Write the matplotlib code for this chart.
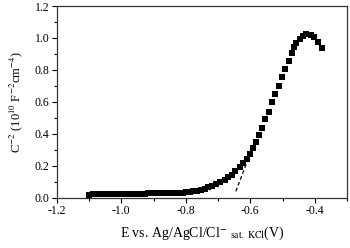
import matplotlib
matplotlib.use('Agg')
import matplotlib.pyplot as plt
from matplotlib.ticker import MultipleLocator, FormatStrFormatter

plt.rcParams['font.family'] = 'Liberation Serif'
plt.rcParams['mathtext.fontset'] = 'stix'
plt.rcParams['axes.unicode_minus'] = False

# Mott-Schottky data: potential (V) and C^-2 (10^10 F^-2 cm^-4)
potential = [-1.100, -1.089, -1.078, -1.068, -1.057, -1.046, -1.035, -1.025,
             -1.014, -1.003, -0.992, -0.982, -0.971, -0.960, -0.949, -0.939,
             -0.928, -0.917, -0.906, -0.896, -0.885, -0.874, -0.863, -0.853,
             -0.842, -0.831, -0.820, -0.810, -0.799, -0.788, -0.777, -0.766,
             -0.754, -0.742, -0.730, -0.718, -0.705, -0.693, -0.680, -0.668,
             -0.657, -0.646, -0.633, -0.622, -0.611, -0.601, -0.592, -0.581,
             -0.572, -0.563, -0.553, -0.542, -0.532, -0.522, -0.512, -0.502,
             -0.491, -0.481, -0.472, -0.465, -0.458, -0.447, -0.437, -0.426,
             -0.413, -0.401, -0.389, -0.379]
c_inv2 = [0.020, 0.021, 0.021, 0.022, 0.022, 0.022, 0.023, 0.023,
          0.024, 0.024, 0.024, 0.025, 0.025, 0.025, 0.026, 0.026,
          0.026, 0.027, 0.027, 0.027, 0.028, 0.028, 0.029, 0.029,
          0.030, 0.031, 0.031, 0.032, 0.034, 0.036, 0.039, 0.044,
          0.050, 0.056, 0.064, 0.073, 0.083, 0.096, 0.110, 0.127,
          0.144, 0.167, 0.192, 0.217, 0.242, 0.275, 0.310, 0.350,
          0.392, 0.435, 0.490, 0.539, 0.596, 0.648, 0.700, 0.754,
          0.806, 0.856, 0.904, 0.942, 0.971, 0.996, 1.014, 1.025,
          1.021, 1.004, 0.975, 0.938]

# linear fit (tangent) endpoints
fit_x = [-0.645, -0.607]
fit_y = [0.04, 0.24]

fig = plt.figure(figsize=(3.5, 2.48), dpi=100)
ax = fig.add_axes([0.1626, 0.2028, 0.8288, 0.773])

ax.plot(potential, c_inv2, 's', color='k', ms=3.9, mec='k', mew=0)
ax.plot(fit_x, fit_y, '--', color='k', lw=0.9, dashes=(3, 2))

ax.set_xlim(-1.2, -0.3)
ax.set_ylim(0, 1.2)
ax.xaxis.set_major_locator(MultipleLocator(0.2))
ax.xaxis.set_minor_locator(MultipleLocator(0.1))
ax.yaxis.set_major_locator(MultipleLocator(0.2))
ax.yaxis.set_minor_locator(MultipleLocator(0.1))
ax.xaxis.set_major_formatter(FormatStrFormatter('%.1f'))
ax.yaxis.set_major_formatter(FormatStrFormatter('%.1f'))
ax.tick_params(which='major', direction='out', length=3.5, width=0.8, labelsize=8.5, pad=2)
ax.tick_params(which='minor', direction='out', length=2, width=0.8)
for s in ax.spines.values():
    s.set_linewidth(0.9)
    s.set_color('#333333')

ax.set_xlabel(r'E vs. Ag/AgCl/Cl$^{-}$ ${}_{\mathrm{sat.\ KCl}}$(V)', fontsize=10, labelpad=5)
ax.set_ylabel(r'C$^{-2}$ (10$^{10}$ F$^{-2}$cm$^{-4}$)', fontsize=9, labelpad=7)

fig.savefig('out.png', dpi=100)
